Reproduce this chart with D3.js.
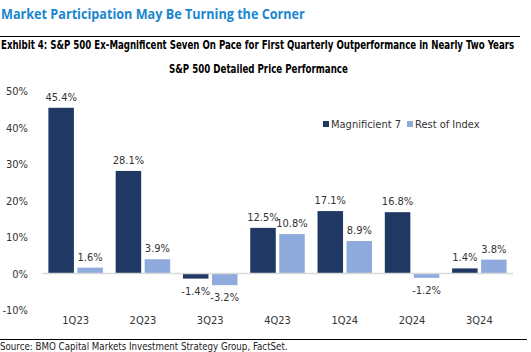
<!DOCTYPE html>
<html><head><meta charset="utf-8">
<script src="https://cdn.jsdelivr.net/npm/d3@7"></script>
<style>body{margin:0;background:#fff}svg{display:block}</style>
</head><body>
<script>
const categories = ["1Q23","2Q23","3Q23","4Q23","1Q24","2Q24","3Q24"];
const mag7 = [45.4, 28.1, -1.4, 12.5, 17.1, 16.8, 1.4];
const restOfIndex = [1.6, 3.9, -3.2, 10.8, 8.9, -1.2, 3.8];
const seriesNames = ["Magnificient 7", "Rest of Index"];
const yTicks = [-10, 0, 10, 20, 30, 40, 50];

const W = 531, H = 352;
const font = "'DejaVu Sans Condensed','Liberation Sans Narrow',sans-serif";
const dark = "#203864", light = "#8faadc";
const svg = d3.select("body").append("svg").attr("width", W).attr("height", H);

// place text and scale it horizontally to a target width
function fitText(x, yb, str, w, attrs) {
  const g = svg.append("g");
  const t = g.append("text").attr("x", 0).attr("y", 0).text(str);
  Object.entries(attrs).forEach(([k, v]) => t.attr(k, v));
  const nat = t.node().getComputedTextLength();
  const sx = w / nat;
  g.attr("transform", `translate(${x},${yb}) scale(${sx},1)`);
  return t;
}

fitText(1, 19, "Market Participation May Be Turning the Corner", 304,
  {"font-family": "'Open Sans',sans-serif", "font-weight": "bold", "font-size": 15, "fill": "#1a86d0"});
svg.append("line").attr("x1", 0).attr("x2", 520).attr("y1", 36.5).attr("y2", 36.5).attr("stroke", "#000").attr("stroke-width", 1);
fitText(1, 49, "Exhibit 4: S&P 500 Ex-Magnificent Seven On Pace for First Quarterly Outperformance in Nearly Two Years", 514,
  {"font-family": font, "font-weight": "bold", "font-size": 11.5, "fill": "#000"});
fitText(169, 73, "S&P 500 Detailed Price Performance", 179,
  {"font-family": font, "font-weight": "bold", "font-size": 11.5, "fill": "#000"});

const y = d3.scaleLinear().domain([-10, 50]).range([310, 91]);
const x0 = d3.scaleBand().domain(categories).range([42, 513]).paddingInner(0.19).paddingOuter(0.095);
const x1 = d3.scaleBand().domain(seriesNames).range([0, x0.bandwidth()]).paddingInner(0.12);

const yAxis = d3.axisLeft(y).tickValues(yTicks).tickSize(0).tickFormat(d => d + "%");
const ga = svg.append("g").attr("transform", "translate(31,0)").call(yAxis);
ga.select(".domain").remove();
ga.selectAll("text").attr("font-family", font).attr("font-size", 11).attr("fill", "#333");

const data = categories.map((c, i) => ({c, vals: [mag7[i], restOfIndex[i]]}));
const g = svg.append("g");
data.forEach(d => {
  d.vals.forEach((v, j) => {
    const xx = x0(d.c) + x1(seriesNames[j]);
    g.append("rect").attr("x", xx).attr("width", x1.bandwidth())
      .attr("y", Math.min(y(v), y(0))).attr("height", Math.abs(y(v) - y(0)))
      .attr("fill", j ? light : dark);
    g.append("text").attr("x", xx + x1.bandwidth() / 2)
      .attr("y", v >= 0 ? y(v) - 7 : y(v) + 16)
      .attr("text-anchor", "middle").text(v.toFixed(1) + "%")
      .attr("font-family", font).attr("font-size", 11).attr("fill", "#333");
  });
});
svg.append("line").attr("x1", 42).attr("x2", 513).attr("y1", y(0)).attr("y2", y(0)).attr("stroke", "#d9d9d9").attr("stroke-width", 1.5);

const xAxis = d3.axisBottom(x0).tickSize(0);
const gx = svg.append("g").attr("transform", "translate(0,313)").call(xAxis);
gx.select(".domain").remove();
gx.selectAll("text").attr("font-family", font).attr("font-size", 11).attr("fill", "#333");

const leg = [{n: seriesNames[0], c: dark, x: 323}, {n: seriesNames[1], c: light, x: 407}];
leg.forEach(l => {
  svg.append("rect").attr("x", l.x).attr("y", 121).attr("width", 6).attr("height", 6).attr("fill", l.c);
  svg.append("text").attr("x", l.x + 8).attr("y", 128).text(l.n)
    .attr("font-family", font).attr("font-size", 11).attr("fill", "#333");
});

svg.append("line").attr("x1", 0).attr("x2", 527).attr("y1", 339.5).attr("y2", 339.5).attr("stroke", "#000").attr("stroke-width", 1);
fitText(0, 350, "Source: BMO Capital Markets Investment Strategy Group, FactSet.", 288,
  {"font-family": font, "font-size": 11, "fill": "#222"});
</script>
</body></html>
